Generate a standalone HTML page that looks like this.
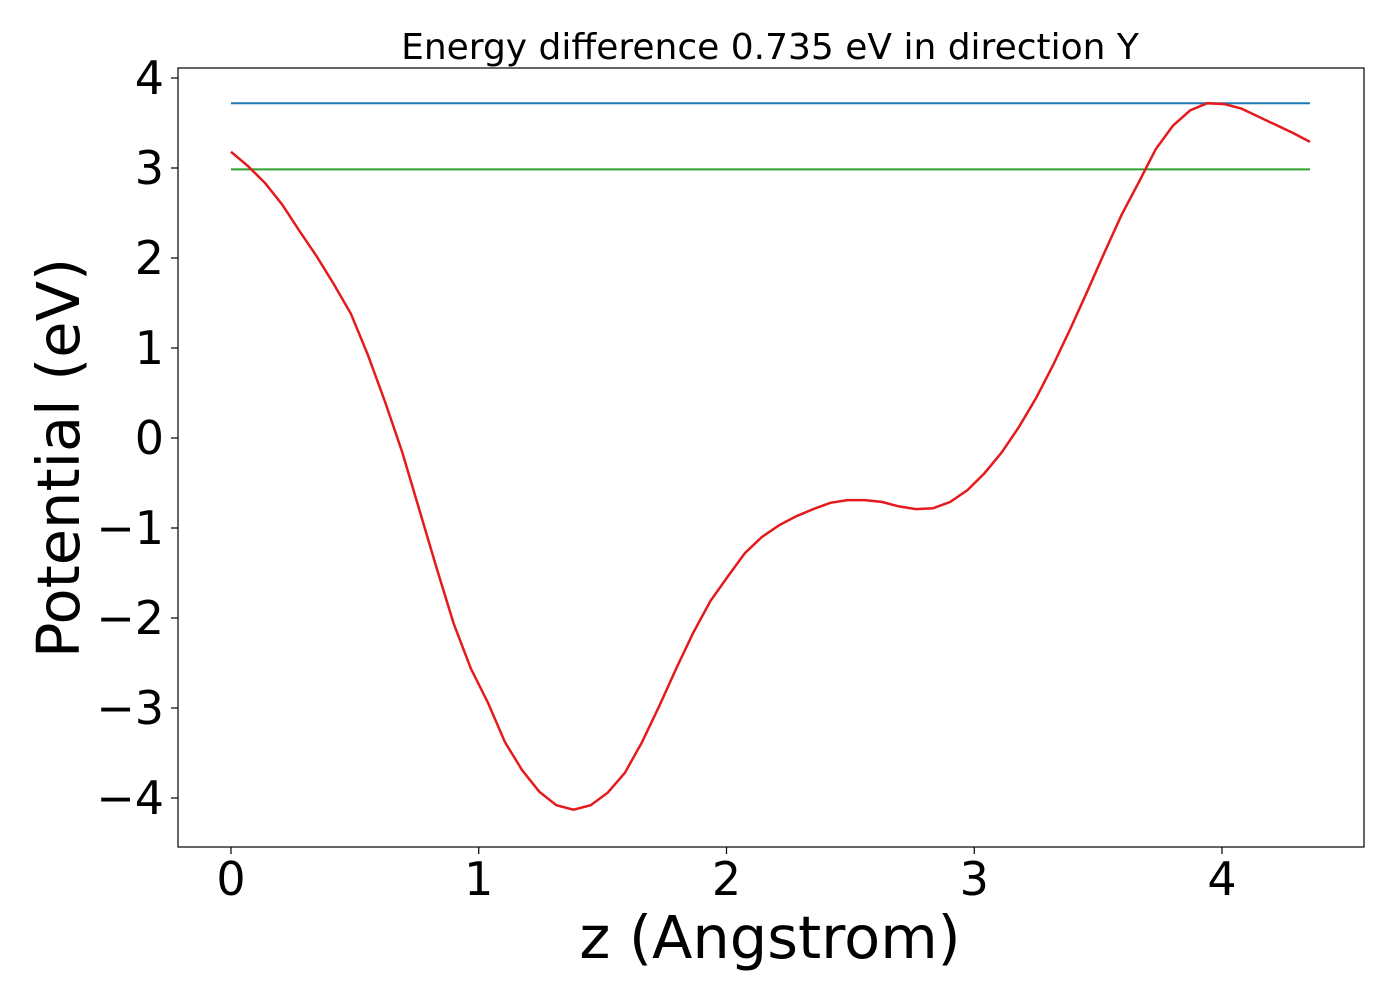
<!DOCTYPE html>
<html><head><meta charset="utf-8"><style>
body{margin:0;background:#fff;}
svg text{font-family:"DejaVu Sans","Liberation Sans",sans-serif;fill:#000;}
</style></head><body>
<svg id="chart" width="1400" height="1000" xmlns="http://www.w3.org/2000/svg">
<rect x="0" y="0" width="1400" height="1000" fill="#fff"/>
<text x="770" y="59" font-size="36" text-anchor="middle">Energy difference 0.735 eV in direction Y</text>
<g id="plot"></g>
<rect x="178" y="68" width="1186" height="779" fill="none" stroke="#000" stroke-width="1.2"/>
<text x="770" y="958" font-size="59" text-anchor="middle">z (Angstrom)</text>
<text transform="translate(79,458) rotate(-90)" font-size="59" text-anchor="middle">Potential (eV)</text>
</svg>
<script>
const potential=[3.18,3.02,2.83,2.59,2.30,2.02,1.71,1.38,0.92,0.40,-0.16,-0.80,-1.44,-2.06,-2.56,-2.94,-3.38,-3.69,-3.93,-4.08,-4.13,-4.08,-3.94,-3.72,-3.38,-2.98,-2.56,-2.16,-1.81,-1.54,-1.28,-1.10,-0.97,-0.87,-0.79,-0.72,-0.69,-0.69,-0.71,-0.76,-0.79,-0.78,-0.71,-0.58,-0.39,-0.16,0.12,0.44,0.81,1.21,1.63,2.06,2.48,2.84,3.21,3.47,3.64,3.72,3.71,3.66,3.57,3.48,3.39,3.29];
const zMax=4.355;
const maxLevel=3.72;
const minLevel=2.985;
const xTicks=[0,1,2,3,4];
const yTicks=[-4,-3,-2,-1,0,1,2,3,4];
const xs=v=>231+v*247.75;
const ys=v=>438-v*90;
const NS="http://www.w3.org/2000/svg";
const svg=document.getElementById('chart');
const g=document.getElementById('plot');
function mk(tag,attrs,parent){const e=document.createElementNS(NS,tag);for(const k in attrs)e.setAttribute(k,attrs[k]);(parent||g).appendChild(e);return e;}
xTicks.forEach(t=>{
  const l=mk('line',{x1:xs(t),x2:xs(t),y1:847,y2:854,stroke:'#000','stroke-width':1.2},svg);
  
  
  const tx=mk('text',{x:xs(t),y:895,'font-size':46,'text-anchor':'middle'},svg);
  tx.textContent=t;
  
  
});
yTicks.forEach(t=>{
  const l=mk('line',{x1:171,x2:178,y1:ys(t),y2:ys(t),stroke:'#000','stroke-width':1.2},svg);
  
  
  const tx=mk('text',{x:164,y:ys(t)+16,'font-size':46,'text-anchor':'end'},svg);
  tx.textContent=(t<0?'\u2212'+(-t):t);
  
  
});
const step=zMax/(potential.length-1);
const b=mk('line',{x1:xs(0),x2:xs(zMax),y1:ys(maxLevel),y2:ys(maxLevel),stroke:'#1f77b4','stroke-width':2});


const gr=mk('line',{x1:xs(0),x2:xs(zMax),y1:ys(minLevel),y2:ys(minLevel),stroke:'#2ca02c','stroke-width':2});


const pts=potential.map((v,i)=>xs(i*step).toFixed(1)+','+ys(v).toFixed(1)).join(' ');
const p=mk('polyline',{points:pts,fill:'none',stroke:'#e41a1c','stroke-width':2.5});


</script>
</body></html>
